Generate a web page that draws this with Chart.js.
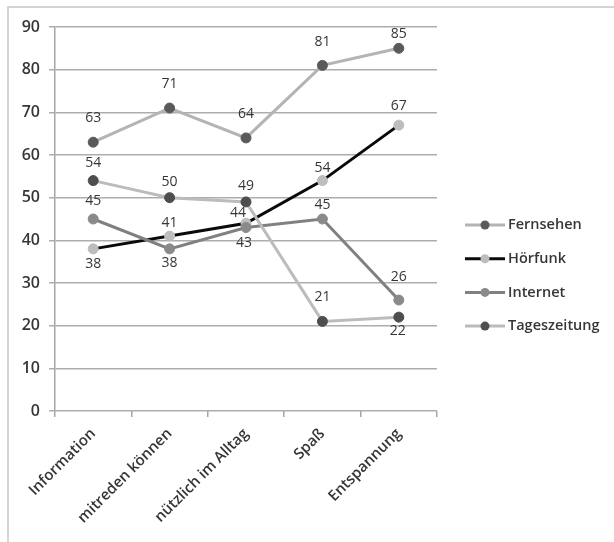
<!DOCTYPE html>
<html>
<head>
<meta charset="utf-8">
<script src="https://cdn.jsdelivr.net/npm/chart.js@4/dist/chart.umd.min.js"></script>
<style>
  html, body { margin: 0; padding: 0; background: #fff; }
  #wrap { position: relative; width: 614px; height: 542px; overflow: hidden; }
  #frame { position: absolute; left: 7px; top: 6px; width: 640px; height: 560px;
           border-top: 2px solid #d4d4d4; border-left: 2px solid #d4d4d4; }
  canvas { position: absolute; left: 0; top: 0; }
</style>
</head>
<body>
<div id="wrap">
  <div id="frame"></div>
  <canvas id="c" width="614" height="542"></canvas>
</div>
<script>
// Kategorien (x-Achse)
const categories = ['Information', 'mitreden können', 'nützlich im Alltag', 'Spaß', 'Entspannung'];

// Werte je Medium
const fernsehen    = [63, 71, 64, 81, 85];
const hoerfunk     = [38, 41, 44, 54, 67];
const internet     = [45, 38, 43, 45, 26];
const tageszeitung = [54, 50, 49, 21, 22];

const seriesNames = ['Fernsehen', 'Hörfunk', 'Internet', 'Tageszeitung'];

// Achsenskala
const yMin = 0, yMax = 90, yStep = 10;

const FONT = '"Open Sans", "DejaVu Sans", sans-serif';
const TEXT = '#363636';

// Wert-Beschriftungen: senkrechter/waagrechter Versatz je Punkt
const labelShift = [
  { dy: [-24, -24, -24, -23, -14], dx: [0, 0, 0, 0, 0] },
  { dy: [15, -13, -10, -13, -19],  dx: [0, 0, -8, 0, 0] },
  { dy: [-18, 14, 15, -14, -23],   dx: [0, 0, -2, 0, 0] },
  { dy: [-18, -16, -16, -24, 14],  dx: [0, 0, 0, 0, -1] }
];

const valueLabels = {
  id: 'valueLabels',
  afterDatasetsDraw(chart) {
    const ctx = chart.ctx;
    ctx.save();
    ctx.font = '14px ' + FONT;
    ctx.fillStyle = TEXT;
    ctx.textAlign = 'center';
    ctx.textBaseline = 'middle';
    chart.data.datasets.forEach((ds, i) => {
      const meta = chart.getDatasetMeta(i);
      meta.data.forEach((pt, j) => {
        const s = labelShift[i];
        ctx.fillText(String(ds.data[j]), pt.x + s.dx[j], pt.y + s.dy[j]);
      });
    });
    ctx.restore();
  }
};

// Legende rechts: Linie mit Marker in der Mitte
const sideLegend = {
  id: 'sideLegend',
  afterDraw(chart) {
    const ctx = chart.ctx;
    const x0 = 465, x1 = 505, startY = 225, gap = 33.7;
    ctx.save();
    ctx.font = '600 14.5px ' + FONT;
    ctx.textBaseline = 'middle';
    chart.data.datasets.forEach((ds, i) => {
      const y = startY + i * gap;
      ctx.strokeStyle = ds.borderColor;
      ctx.lineWidth = ds.borderWidth;
      ctx.beginPath();
      ctx.moveTo(x0, y);
      ctx.lineTo(x1, y);
      ctx.stroke();
      ctx.fillStyle = ds.pointBackgroundColor;
      ctx.beginPath();
      ctx.arc((x0 + x1) / 2, y, 4.5, 0, Math.PI * 2);
      ctx.fill();
      ctx.fillStyle = TEXT;
      ctx.fillText(ds.label, x1 + 3, y);
    });
    ctx.restore();
  }
};

function series(label, data, line, marker, order) {
  return {
    label, data, order,
    borderColor: line,
    borderWidth: 3,
    pointBackgroundColor: marker,
    pointBorderColor: marker,
    pointBorderWidth: 1,
    pointRadius: 5,
    pointHoverRadius: 5,
    tension: 0,
    fill: false
  };
}

new Chart(document.getElementById('c'), {
  type: 'line',
  data: {
    labels: categories,
    datasets: [
      series(seriesNames[0], fernsehen,    '#b4b4b4', '#5a5a5a', 4),
      series(seriesNames[1], hoerfunk,     '#0a0a0a', '#bdbdbd', 3),
      series(seriesNames[2], internet,     '#808080', '#8a8a8a', 2),
      series(seriesNames[3], tageszeitung, '#bcbcbc', '#4e4e4e', 1)
    ]
  },
  options: {
    responsive: false,
    animation: false,
    events: [],
    layout: { padding: { left: 7, top: 27, right: 177, bottom: 0 } },
    plugins: {
      legend: { display: false },
      tooltip: { enabled: false }
    },
    scales: {
      x: {
        offset: true,
        grid: { offset: true, drawOnChartArea: false, drawTicks: true, tickLength: 6, color: '#a6a6a6', lineWidth: 1.5 },
        border: { display: false },
        ticks: {
          color: TEXT, font: { family: FONT, size: 15, weight: '600' },
          maxRotation: 45, minRotation: 45, padding: 8, autoSkip: false
        },
        afterFit(s) { s.height = 131; }
      },
      y: {
        min: yMin, max: yMax,
        ticks: { stepSize: yStep, color: TEXT, font: { family: FONT, size: 16, weight: '600' }, padding: 9 },
        grid: { color: '#adadad', lineWidth: 1.5, tickLength: 6, drawTicks: true },
        border: { display: true, color: '#a6a6a6', width: 1.5 },
        afterFit(s) { s.width = 48; }
      }
    }
  },
  plugins: [valueLabels, sideLegend]
});
</script>
</body>
</html>
